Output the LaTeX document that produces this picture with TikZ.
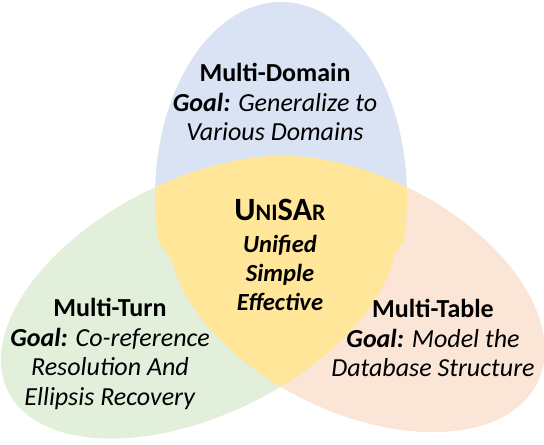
\documentclass[tikz,border=0pt]{standalone}
\usepackage{fontspec}
\setmainfont{Carlito}
\usepackage{xcolor}
\definecolor{domainblue}{HTML}{DAE3F3}
\definecolor{turngreen}{HTML}{E2EFDA}
\definecolor{tableorange}{HTML}{FBE5D6}
\definecolor{coreyellow}{HTML}{FFE699}

\begin{document}
\begin{tikzpicture}[
      x=0.02cm, y=0.02cm,
      txt/.style={align=center, inner sep=0pt,
                  font=\fontsize{14.8}{17}\selectfont},
      core/.style={align=center, inner sep=0pt,
                   font=\fontsize{14}{16.5}\selectfont\bfseries\itshape}
    ]
    \useasboundingbox (0,0) rectangle (544,444);
    % the three tasks
    \fill[turngreen]   (199,147) ellipse [x radius=213, y radius=118, rotate=26.2];
    \fill[tableorange] (357,150) ellipse [x radius=201, y radius=118, rotate=-26.2];
    \begin{scope}
      \clip (0,214) rectangle (544,444);
      \fill[domainblue] (281,247) ellipse [x radius=126, y radius=195];
    \end{scope}
    % common part
    \begin{scope}
      \clip (281,247) ellipse [x radius=126, y radius=195];
      \clip (199,147) ellipse [x radius=213, y radius=118, rotate=26.2];
      \fill[coreyellow] (357,150) ellipse [x radius=201, y radius=118, rotate=-26.2];
    \end{scope}
    \begin{scope}
      \clip (281,247) ellipse [x radius=126, y radius=195];
      \clip (199,147) ellipse [x radius=213, y radius=118, rotate=26.2];
      \fill[coreyellow] (140,344) -- (281,344) -- (281,179) -- (175,179) -- (150,214) -- cycle;
    \end{scope}
    \begin{scope}
      \clip (281,247) ellipse [x radius=126, y radius=195];
      \clip (357,150) ellipse [x radius=201, y radius=118, rotate=-26.2];
      \fill[coreyellow] (422,344) -- (281,344) -- (281,179) -- (387,179) -- (412,214) -- cycle;
    \end{scope}
    \node[txt] (dom) at (275,342)
      {\textbf{Multi-Domain}\\\textbf{\textit{Goal:}} \textit{Generalize to}\\\textit{Various Domains}};
    \node[txt] (turn) at (110,90)
      {\textbf{Multi-Turn}\\\textbf{\textit{Goal:}} \textit{Co-reference}\\\textit{Resolution And}\\\textit{Ellipsis Recovery}};
    \node[txt] (tab) at (433,106)
      {\textbf{Multi-Table}\\\textbf{\textit{Goal:}} \textit{Model the}\\\textit{Database Structure}};
    \node[inner sep=0pt, font=\bfseries] (name) at (280,234)
      {\fontsize{18.5}{21}\selectfont U{\fontsize{13.5}{16}\selectfont NI}SA{\fontsize{13.5}{16}\selectfont R}};
    \node[core] (prop) at (280,171) {Unified\\Simple\\Effective};
  \end{tikzpicture}
\end{document}
